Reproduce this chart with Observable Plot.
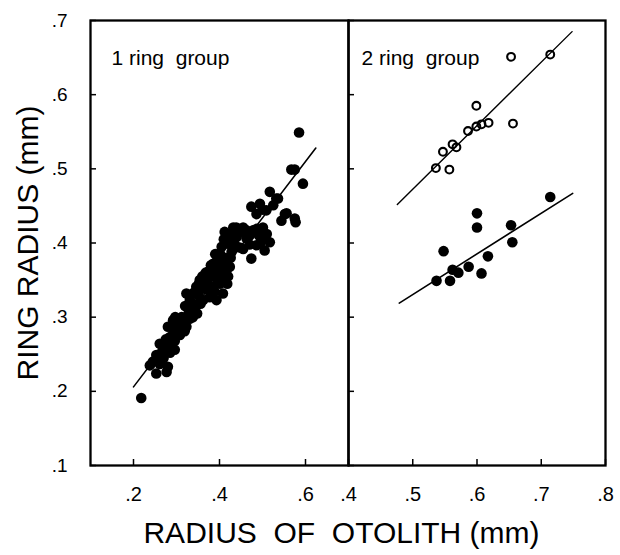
<!DOCTYPE html>
<html><head><meta charset="utf-8">
<script src="https://cdn.jsdelivr.net/npm/d3@7"></script>
<script src="https://cdn.jsdelivr.net/npm/@observablehq/plot@0.6"></script>
<style>
html,body{margin:0;padding:0;background:#fff;}
#chart{position:relative;width:620px;height:555px;}
#chart svg{position:absolute;left:0;top:0;}
</style></head><body><div id="chart"></div>
<script>
// ---- data ----
const yTicks = [0.1, 0.2, 0.3, 0.4, 0.5, 0.6, 0.7];
const xTicksLeft = [0.2, 0.4, 0.6];
const xTicksRight = [0.4, 0.5, 0.6, 0.7, 0.8];
const panelLabels = ["1 ring\u00a0 group", "2 ring\u00a0 group"];
const yTitle = "RING RADIUS (mm)";
const xTitle = "RADIUS\u00a0 OF\u00a0 OTOLITH (mm)";

// 1 ring group: [otolith radius, ring radius]
const ring1 = [
  [0.218,0.191],
  [0.238,0.235],[0.245,0.240],[0.253,0.224],[0.261,0.237],[0.253,0.249],[0.269,0.260],[0.261,0.264],
  [0.277,0.226],[0.280,0.233],[0.270,0.245],[0.296,0.256],[0.288,0.262],[0.284,0.273],[0.280,0.287],
  [0.292,0.296],[0.312,0.300],[0.323,0.287],[0.331,0.298],[0.319,0.281],[0.300,0.281],[0.290,0.275],
  [0.305,0.290],[0.315,0.292],[0.297,0.300],[0.285,0.252],[0.275,0.270],[0.296,0.268],[0.308,0.276],
  [0.265,0.252],[0.290,0.286],
  [0.331,0.323],[0.323,0.332],[0.346,0.341],[0.339,0.318],[0.362,0.323],[0.377,0.327],[0.354,0.350],
  [0.377,0.354],[0.401,0.345],[0.408,0.332],[0.401,0.359],[0.385,0.341],[0.370,0.338],[0.393,0.323],
  [0.335,0.310],[0.345,0.315],[0.350,0.330],[0.358,0.338],[0.365,0.345],[0.328,0.305],[0.340,0.333],
  [0.388,0.335],[0.395,0.350],[0.360,0.355],[0.368,0.360],[0.382,0.365],[0.348,0.305],[0.356,0.318],
  [0.382,0.330],[0.320,0.315],[0.338,0.300],
  [0.385,0.372],[0.401,0.386],[0.416,0.363],[0.408,0.372],[0.395,0.377],[0.380,0.370],[0.392,0.360],
  [0.410,0.352],[0.420,0.355],[0.424,0.368],[0.412,0.380],[0.375,0.362],[0.352,0.345],[0.372,0.350],
  [0.398,0.367],[0.418,0.345],[0.390,0.385],[0.426,0.380],
  [0.412,0.415],[0.432,0.421],[0.455,0.421],[0.478,0.417],[0.501,0.421],[0.517,0.401],[0.505,0.390],
  [0.474,0.379],[0.420,0.399],[0.447,0.394],[0.486,0.397],[0.440,0.408],[0.463,0.406],[0.416,0.412],
  [0.439,0.421],[0.463,0.417],[0.486,0.419],[0.501,0.408],[0.455,0.392],[0.432,0.399],[0.420,0.404],
  [0.405,0.395],[0.428,0.388],[0.470,0.410],[0.492,0.410],[0.510,0.412],[0.425,0.412],[0.448,0.415],
  [0.410,0.405],[0.440,0.395],[0.470,0.398],[0.495,0.400],
  [0.474,0.449],[0.494,0.453],[0.509,0.444],[0.525,0.451],[0.532,0.460],[0.486,0.439],[0.517,0.469],
  [0.536,0.460],[0.544,0.430],[0.552,0.439],[0.577,0.428],[0.556,0.440],[0.575,0.433],[0.567,0.499],
  [0.575,0.499],[0.594,0.480],[0.585,0.549],[0.500,0.445]
];
// 2 ring group, outer ring (open circles)
const ring2Open = [
  [0.653,0.651],[0.714,0.654],[0.599,0.585],[0.656,0.561],[0.618,0.562],[0.607,0.560],[0.599,0.557],
  [0.586,0.551],[0.568,0.529],[0.562,0.533],[0.547,0.523],[0.536,0.501],[0.557,0.499]
];
// 2 ring group, inner ring (filled circles)
const ring2Filled = [
  [0.600,0.440],[0.600,0.421],[0.653,0.424],[0.714,0.462],[0.655,0.401],[0.548,0.389],[0.617,0.382],
  [0.587,0.368],[0.562,0.364],[0.571,0.360],[0.607,0.359],[0.537,0.349],[0.558,0.349]
];
// fitted lines (end points)
const fit1 = [[0.200,0.206],[0.624,0.528]];
const fit2Open = [[0.476,0.452],[0.748,0.685]];
const fit2Filled = [[0.479,0.319],[0.749,0.467]];

// ---- drawing ----
const font = '"Liberation Sans", Arial, Helvetica, sans-serif';
const fmt = d => d.toFixed(1).replace(/^0/, "");
const W = 620, H = 555;
const style = {background: "transparent", fontFamily: font, color: "#000", overflow: "visible"};
const px = d => d[0], py = d => d[1];

const left = Plot.plot({
  width: W, height: H,
  marginTop: 20, marginBottom: 90, marginLeft: 90, marginRight: W - 348,
  style,
  x: {domain: [0.1, 0.7]},
  y: {domain: [0.1, 0.7]},
  marks: [
    Plot.frame({strokeWidth: 2.3}),
    Plot.tickX(xTicksLeft, {x: d => d, insetTop: 439, strokeWidth: 1.5}),
    Plot.tickY(yTicks, {y: d => d, insetRight: 252, strokeWidth: 1.5}),
    Plot.axisX({ticks: xTicksLeft, tickSize: 0, tickPadding: 21, tickFormat: fmt, fontSize: 20, label: null}),
    Plot.axisY({ticks: yTicks, tickSize: 0, tickPadding: 23, tickFormat: fmt, fontSize: 19, label: null}),
    Plot.line(fit1, {x: px, y: py, strokeWidth: 1.6}),
    Plot.dot(ring1, {x: px, y: py, r: 5.3, fill: "#000"}),
    Plot.text([panelLabels[0]], {frameAnchor: "top-left", textAnchor: "start", lineAnchor: "bottom", dx: 21, dy: 44, fontSize: 21}),
    Plot.text([yTitle], {frameAnchor: "left", rotate: -90, textAnchor: "middle", lineAnchor: "bottom", dx: -53, fontSize: 30, letterSpacing: 1.2}),
    Plot.text([xTitle], {frameAnchor: "bottom", textAnchor: "middle", lineAnchor: "bottom", dx: 122, dy: 77, fontSize: 30, letterSpacing: 0.4})
  ]
});

const right = Plot.plot({
  width: W, height: H,
  marginTop: 20, marginBottom: 90, marginLeft: 348, marginRight: W - 605,
  style,
  x: {domain: [0.4, 0.8]},
  y: {domain: [0.1, 0.7], axis: null},
  marks: [
    Plot.frame({strokeWidth: 2.3}),
    Plot.tickX(xTicksRight, {x: d => d, insetTop: 439, strokeWidth: 1.5}),
    Plot.tickY(yTicks, {y: d => d, insetRight: 251, strokeWidth: 1.5}),
    Plot.axisX({ticks: xTicksRight, tickSize: 0, tickPadding: 21, tickFormat: fmt, fontSize: 20, label: null}),
    Plot.line(fit2Open, {x: px, y: py, strokeWidth: 1.4}),
    Plot.line(fit2Filled, {x: px, y: py, strokeWidth: 1.6}),
    Plot.dot(ring2Open, {x: px, y: py, r: 3.9, stroke: "#000", strokeWidth: 2.1, fill: "none"}),
    Plot.dot(ring2Filled, {x: px, y: py, r: 5.3, fill: "#000"}),
    Plot.text([panelLabels[1]], {frameAnchor: "top-left", textAnchor: "start", lineAnchor: "bottom", dx: 13, dy: 44, fontSize: 21})
  ]
});

const chart = document.getElementById("chart");
chart.appendChild(left);
chart.appendChild(right);
</script>
</body></html>
